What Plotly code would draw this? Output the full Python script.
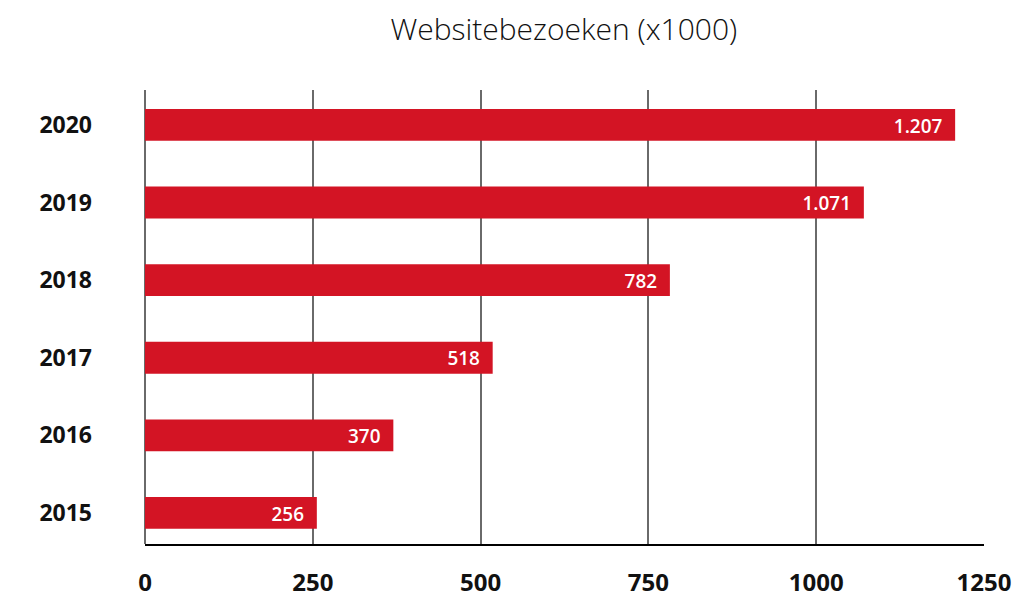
import plotly.graph_objects as go

# Data
years = ["2015", "2016", "2017", "2018", "2019", "2020"]
visits = [256, 370, 518, 782, 1071, 1207]
visit_labels = ["256", "370", "518", "782", "1.071", "1.207"]
x_ticks = [0, 250, 500, 750, 1000, 1250]

# a little room between the label and the end of the bar
pad = "\u00a0\u00a0"

fig = go.Figure()

fig.add_trace(go.Bar(
    y=years,
    x=visits,
    orientation="h",
    width=0.41,
    marker=dict(color="#d31424", line=dict(width=0)),
    text=[t + pad for t in visit_labels],
    textposition="inside",
    insidetextanchor="end",
    textfont=dict(family="Open Sans", size=22, color="white", weight=600),
    hoverinfo="skip",
))

fig.update_layout(
    width=1015, height=598,
    margin=dict(l=145, r=31, t=90, b=54, autoexpand=False),
    paper_bgcolor="white",
    plot_bgcolor="white",
    showlegend=False,
    title=dict(
        text="Websitebezoeken (x1000)",
        x=0.5555, xanchor="center",
        y=0.95, yanchor="middle",
        font=dict(family="Open Sans", size=30, color="#111111", weight=300),
    ),
    font=dict(family="Open Sans", color="#111111"),
)

fig.update_xaxes(
    range=[0, 1250],
    tickvals=x_ticks,
    automargin=False,
    showgrid=True,
    gridcolor="#6a6a6a",
    gridwidth=1.5,
    zeroline=True,
    zerolinecolor="#6a6a6a",
    zerolinewidth=1.5,
    showline=True,
    linecolor="black",
    linewidth=1.5,
    ticks="",
    ticklabelstandoff=16,
    tickfont=dict(family="Open Sans", size=24, color="#111111", weight="bold"),
)

fig.update_yaxes(
    type="category",
    categoryorder="array",
    categoryarray=years,
    range=[-0.4, 5.45],
    automargin=False,
    showgrid=False,
    zeroline=False,
    showline=False,
    ticks="",
    ticklabelstandoff=52,
    tickfont=dict(family="Open Sans", size=23, color="#111111", weight="bold"),
)

# drop the browser's default page margin so the figure sits at the top-left
fig.write_html(
    "out.html",
    config={"displayModeBar": False},
    post_script="document.body.style.margin='0';",
)
